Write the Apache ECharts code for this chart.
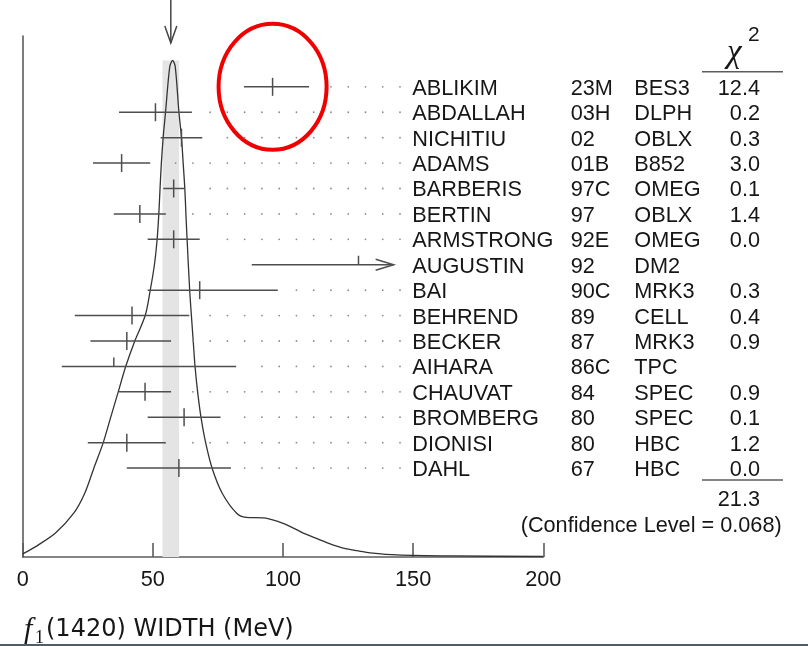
<!DOCTYPE html>
<html>
<head>
<meta charset="utf-8">
<script src="https://cdn.jsdelivr.net/npm/echarts@6/dist/echarts.min.js"></script>
<style>
  html, body { margin: 0; padding: 0; background: #fff; }
  #c { width: 808px; height: 646px; }
</style>
</head>
<body>
<div id="c"></div>
<script>
// f1(1420) width measurements, listed top to bottom
const names = ['ABLIKIM', 'ABDALLAH', 'NICHITIU', 'ADAMS', 'BARBERIS', 'BERTIN', 'ARMSTRONG', 'AUGUSTIN',
               'BAI', 'BEHREND', 'BECKER', 'AIHARA', 'CHAUVAT', 'BROMBERG', 'DIONISI', 'DAHL'];
const years = ['23M', '03H', '02', '01B', '97C', '97', '92E', '92', '90C', '89', '87', '86C', '84', '80', '80', '67'];
const experiments = ['BES3', 'DLPH', 'OBLX', 'B852', 'OMEG', 'OBLX', 'OMEG', 'DM2',
                     'MRK3', 'CELL', 'MRK3', 'TPC', 'SPEC', 'SPEC', 'HBC', 'HBC'];
const chi2 = ['12.4', '0.2', '0.3', '3.0', '0.1', '1.4', '0.0', '', '0.3', '0.4', '0.9', '', '0.9', '0.1', '1.2', '0.0'];
const values  = [96, 51, 61, 38, 58, 45, 58, 129, 68, 42, 40, 35, 47, 62, 40, 60];
const errLow  = [11, 14,  8, 11,  4, 10, 10,  41, 20, 22, 14, 20, 10, 14, 15, 20];
const errHigh = [14, 14,  8, 11,  4, 10, 10,  41, 30, 22, 17, 47, 10, 14, 15, 20];
const usedInFit = [1, 1, 1, 1, 1, 1, 1, 0, 1, 1, 1, 0, 1, 1, 1, 1];

// weighted average and its (scaled) error
const mean = 56.9;
const meanErr = 3.2;
const chi2Total = '21.3';
const confidenceLevel = '0.068';

// ideogram curve (arbitrary height units, 0..100 = full frame)
const curveX = [0, 5, 12.6, 19.6, 23.8, 27.3, 30.9, 33.8, 36.7, 39.6, 43.1, 47.1, 49.0, 50.6, 51.65, 52.3, 52.77,
                53.27, 53.96, 54.9, 56.5, 57.6, 58.6, 60.0, 61.0, 61.65, 62.27, 62.7, 63.15, 64.15, 64.8, 65.5,
                66.2, 67.2, 68.5, 70.3, 72.8, 76.7, 82.2, 85.8, 92.4, 97.7, 100.8, 105.4, 107.8, 114.2, 118.1,
                123.1, 129.6, 133.5, 143.8, 164.2, 200];
const curveY = [0.6, 2.0, 4.6, 8.4, 12.2, 17.0, 21.9, 26.8, 31.7, 36.6, 41.5, 46.4, 51.2, 56.1, 61.0, 65.9, 70.8,
                75.6, 80.5, 85.5, 94.1, 95.3, 94.1, 85.5, 80.5, 75.6, 70.8, 65.9, 61.0, 51.2, 46.4, 41.5,
                36.6, 31.7, 26.8, 21.9, 17.0, 12.2, 8.4, 7.6, 7.5, 6.9, 6.3, 5.2, 4.6, 3.3, 2.5,
                1.7, 1.1, 0.8, 0.4, 0.2, 0.1];

const xTicks = [0, 50, 100, 150, 200];

const SANS = '"Liberation Sans", Arial, Helvetica, sans-serif';
const SERIF = '"Liberation Serif", "DejaVu Serif", serif';
const FS = 21.7;
const TEXT = '#161616';
const BAR = '#4e4e4e';
const ARROW_LIMIT = 142.5;           // bars reaching past this are cut with an arrow
const NAME_X = 412.3, YEAR_X = 570.7, EXP_X = 634.3, CHI_RIGHT = 760;
const DOT_ANCHOR = 400, DOT_STEP = 17.26, DOT_GAP = 11;

const rowData = names.map((n, i) => [i, values[i], values[i] - errLow[i], values[i] + errHigh[i], usedInFit[i]]);
const curveData = curveX.map((x, i) => [x, curveY[i]]);
const bandTop = Math.max(...curveY);

function renderRow(params, api) {
  const i = api.value(0), v = api.value(1), lo = api.value(2), hi = api.value(3), used = api.value(4);
  const hiClip = Math.min(hi, ARROW_LIMIT);
  const pL = api.coord([lo, i]), pR = api.coord([hiClip, i]), pC = api.coord([v, i]);
  const y = pC[1];
  const stroke = { stroke: BAR, lineWidth: 1.5, fill: 'none' };
  const children = [
    { type: 'line', shape: { x1: pL[0], y1: y, x2: pR[0], y2: y }, style: stroke },
    { type: 'line', shape: { x1: pC[0], y1: y - 9, x2: pC[0], y2: used ? y + 9 : y }, style: stroke }
  ];
  if (hi > ARROW_LIMIT) {
    children.push({ type: 'polyline',
      shape: { points: [[pR[0] - 18, y - 5.5], [pR[0], y], [pR[0] - 18, y + 5.5]] }, style: stroke });
  }
  for (let x = DOT_ANCHOR; x >= pR[0] + DOT_GAP; x -= DOT_STEP) {
    children.push({ type: 'circle', shape: { cx: x, cy: y, r: 0.9 }, style: { fill: '#8c8c8c' } });
  }
  const font = FS + 'px ' + SANS;
  const ty = y + 2;
  children.push(
    { type: 'text', style: { text: names[i], x: NAME_X, y: ty, font, fill: TEXT, align: 'left', verticalAlign: 'middle' } },
    { type: 'text', style: { text: years[i], x: YEAR_X, y: ty, font, fill: TEXT, align: 'left', verticalAlign: 'middle' } },
    { type: 'text', style: { text: experiments[i], x: EXP_X, y: ty, font, fill: TEXT, align: 'left', verticalAlign: 'middle' } },
    { type: 'text', style: { text: chi2[i], x: CHI_RIGHT, y: ty, font, fill: TEXT, align: 'right', verticalAlign: 'middle' } }
  );
  return { type: 'group', children };
}

function renderBand(params, api) {
  const p1 = api.coord([api.value(0), api.value(2)]);
  const p2 = api.coord([api.value(1), 0]);
  return { type: 'rect', shape: { x: p1[0], y: p1[1], width: p2[0] - p1[0], height: p2[1] - p1[1] },
           style: { fill: '#e4e4e4' } };
}

const chart = echarts.init(document.getElementById('c'));
const axisColor = '#5c5c5c';

chart.setOption({
  animation: false,
  backgroundColor: '#ffffff',
  grid: { left: 22.7, right: 264.7, top: 36, bottom: 89 },
  xAxis: {
    type: 'value',
    min: xTicks[0], max: xTicks[xTicks.length - 1], interval: xTicks[1] - xTicks[0],
    axisLine: { show: true, onZero: false, lineStyle: { color: axisColor, width: 1.6 } },
    axisTick: { show: true, inside: true, length: 14, lineStyle: { color: axisColor, width: 1.6 } },
    axisLabel: { show: true, margin: 12, color: TEXT, fontSize: FS, fontFamily: SANS },
    splitLine: { show: false }
  },
  yAxis: [
    { type: 'value', inverse: true, min: -2, max: 18.5, position: 'left',
      axisLine: { show: true, onZero: false, lineStyle: { color: axisColor, width: 1.6 } },
      axisTick: { show: false }, axisLabel: { show: false }, splitLine: { show: false } },
    { type: 'value', min: 0, max: 100, show: false, splitLine: { show: false } }
  ],
  series: [
    { type: 'custom', name: 'band', yAxisIndex: 1, z: 1, silent: true,
      renderItem: renderBand, data: [[mean - meanErr, mean + meanErr, bandTop]] },
    { type: 'line', name: 'ideogram', yAxisIndex: 1, z: 2, data: curveData, smooth: 0.3,
      showSymbol: false, symbol: 'none', silent: true,
      lineStyle: { color: '#333333', width: 1.3 } },
    { type: 'custom', name: 'measurements', yAxisIndex: 0, z: 3, clip: false, silent: true,
      renderItem: renderRow, data: rowData }
  ]
});

// overlay: average arrow, highlight ring, chi-square column decorations, axis title
const meanX = chart.convertToPixel({ xAxisIndex: 0 }, mean);
const hl = chart.convertToPixel({ gridIndex: 0 }, [values[0], 0]);
chart.setOption({
  graphic: [
    { type: 'line', shape: { x1: meanX, y1: 0, x2: meanX, y2: 43 }, style: { stroke: '#444', lineWidth: 1.5 } },
    { type: 'polyline', shape: { points: [[meanX - 6, 26], [meanX, 43], [meanX + 6, 26]] },
      style: { stroke: '#444', lineWidth: 1.5, fill: 'none' } },
    { type: 'ellipse', shape: { cx: hl[0], cy: hl[1], rx: 54, ry: 63 },
      style: { stroke: '#f00000', lineWidth: 4, fill: 'none' } },
    { type: 'text', x: 727, y: 53, style: { text: 'χ', font: 'italic 33px ' + SERIF, fill: TEXT, align: 'left', verticalAlign: 'middle' } },
    { type: 'text', x: 748, y: 35, style: { text: '2', font: '21px ' + SANS, fill: TEXT, align: 'left', verticalAlign: 'middle' } },
    { type: 'line', shape: { x1: 702, y1: 71.7, x2: 783, y2: 71.7 }, style: { stroke: axisColor, lineWidth: 1.5 } },
    { type: 'line', shape: { x1: 702, y1: 480, x2: 783, y2: 480 }, style: { stroke: axisColor, lineWidth: 1.5 } },
    { type: 'text', x: CHI_RIGHT, y: 500, style: { text: chi2Total, font: FS + 'px ' + SANS, fill: TEXT, align: 'right', verticalAlign: 'middle' } },
    { type: 'text', x: 781.7, y: 526, style: { text: '(Confidence Level = ' + confidenceLevel + ')', font: FS + 'px ' + SANS, fill: TEXT, align: 'right', verticalAlign: 'middle' } },
    { type: 'text', x: 24, y: 630, style: { text: 'f', font: 'italic 30px ' + SERIF, fill: TEXT, align: 'left', verticalAlign: 'middle' } },
    { type: 'text', x: 35, y: 638, style: { text: '1', font: '18px ' + SERIF, fill: TEXT, align: 'left', verticalAlign: 'middle' } },
    { type: 'text', x: 46, y: 630, style: { text: '(1420) WIDTH (MeV)', font: '24px "DejaVu Sans", sans-serif', fill: TEXT, align: 'left', verticalAlign: 'middle' } },
    { type: 'rect', shape: { x: 0, y: 644, width: 808, height: 2 }, style: { fill: '#4f5d66' } }
  ]
});
</script>
</body>
</html>
